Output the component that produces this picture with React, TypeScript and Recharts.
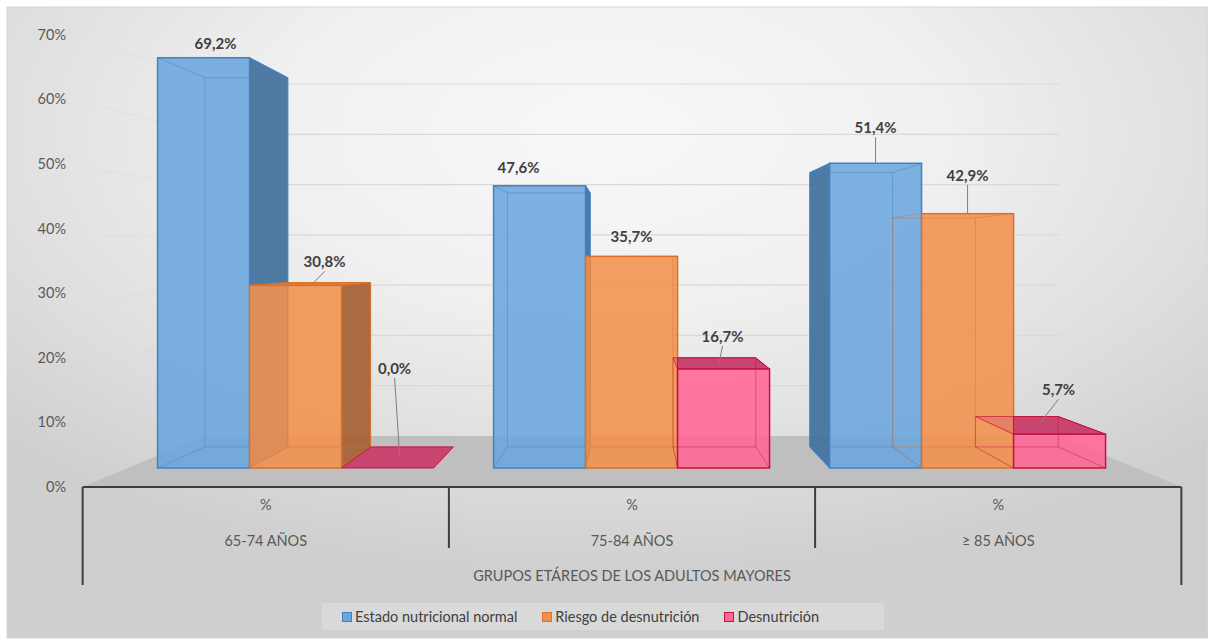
import { BarChart, Bar, XAxis, YAxis, Legend, LabelList } from 'recharts'

const AGE_GROUPS = ['65-74 AÑOS', '75-84 AÑOS', '≥ 85 AÑOS']
const UNIT_ROW = '%'
const NORMAL = [69.2, 47.6, 51.4]
const RISK = [30.8, 35.7, 42.9]
const MALNUTRITION = [0.0, 16.7, 5.7]
const SERIES_NAMES = ['Estado nutricional normal', 'Riesgo de desnutrición', 'Desnutrición']
const Y_TICKS = [0, 10, 20, 30, 40, 50, 60, 70]
const AXIS_TITLE = 'GRUPOS ETÁREOS DE LOS ADULTOS MAYORES'

const data = AGE_GROUPS.map((group, i) => ({
  group,
  normal: NORMAL[i],
  risk: RISK[i],
  mal: MALNUTRITION[i],
}))

// layout of the fake 3d scene
const W = 1208
const H = 641
const PLOT = { left: 128, right: 1136, top: 53, bottom: 468 }
const Y_MAX = 70
const VP = { x: 632, y: 257 } // vanishing point
const K_BACK = 0.9 // back face of the bars
const K_WALL = 0.848 // back wall / back edge of floor
const K_FRONT = 1.09 // front edge of floor, axis labels
const FONT = 'Lato, "Open Sans", sans-serif'
const TEXT_SIZE = 14.5

const SERIES = [
  { key: 'normal', name: SERIES_NAMES[0], front: '#6ba6dd', side: '#46739f', top: '#5b93c9', stroke: '#4182c3' },
  { key: 'risk', name: SERIES_NAMES[1], front: '#f2914d', side: '#a6643a', top: '#d97d3c', stroke: '#d9712b' },
  { key: 'mal', name: SERIES_NAMES[2], front: '#ff6696', side: '#b53a62', top: '#c9446f', stroke: '#c3143f' },
]

// manual label placement (dx from bar centre, dy from bar top), like the excel original
const LABEL_NUDGE = [
  [[12, -14], [-21, -18], [0, -35]],
  [[29, -23], [0, -19], [0, -38]],
  [[7, -99], [-1, -32], [-1, -44]],
]

const proj = (x: number, y: number, k: number): [number, number] => [VP.x + (x - VP.x) * k, VP.y + (y - VP.y) * k]
const pts = (list: number[][]) => list.map((p) => `${p[0].toFixed(1)},${p[1].toFixed(1)}`).join(' ')
const PPU = (PLOT.bottom - PLOT.top) / Y_MAX
const yFront = (v: number) => PLOT.bottom - v * PPU
const fmt = (v: number) => `${Number(v).toFixed(1).replace('.', ',')}%`

function boxShape(si: number) {
  return (props: any) => {
    const { x, y, width, height, payload } = props
    const s = SERIES[si]
    const x0 = x
    const x1 = x + width
    const yt = y
    const yb = y + height
    const bk = (px: number, py: number) => proj(px, py, K_BACK)

    // which side face can be seen, and who stands next to it
    let edge: number | null = null
    let ni = -1
    if (x1 < VP.x) {
      edge = x1
      ni = si + 1
    } else if (x0 > VP.x) {
      edge = x0
      ni = si - 1
    }
    const nb = SERIES[ni]
    const nTop = nb ? yb - payload[nb.key] * PPU : yb
    const hiddenByEarlier = !!nb && ni < si // neighbour already painted

    let side = null
    if (edge !== null) {
      const yc = hiddenByEarlier ? Math.min(yb, nTop) : yb
      if (yc > yt + 0.5) {
        side = (
          <polygon
            points={pts([[edge, yt], [edge, yc], bk(edge, yc), bk(edge, yt)])}
            fill={s.side}
            fillOpacity={0.95}
            stroke={s.stroke}
            strokeWidth={1}
          />
        )
      }
    }

    let top = null
    if (yt > VP.y) {
      const B0 = bk(x0, yt)
      const B1 = bk(x1, yt)
      const full = [[x0, yt], [x1, yt], B1, B0]
      let shown = full
      if (hiddenByEarlier && nTop <= yt && edge === x0) shown = [[x0, yt], [x1, yt], B1, [x0, B1[1]]]
      top = (
        <g>
          {shown !== full && <polygon points={pts(full)} fill={s.top} fillOpacity={0.3} stroke={s.stroke} strokeOpacity={0.4} />}
          <polygon points={pts(shown)} fill={s.top} stroke={s.stroke} strokeWidth={1} />
        </g>
      )
    }

    const b = [bk(x0, yt), bk(x1, yt), bk(x1, yb), bk(x0, yb)]
    const f = [[x0, yt], [x1, yt], [x1, yb], [x0, yb]]
    let hidden = `M${pts(b).split(' ').join(' L')} Z`
    f.forEach((p, i) => {
      hidden += ` M${p[0]},${p[1]} L${b[i][0]},${b[i][1]}`
    })

    return (
      <g>
        {side}
        {top}
        {height > 0.5 && (
          <>
            <rect x={x0} y={yt} width={width} height={height} fill={s.front} fillOpacity={0.88} stroke={s.stroke} strokeWidth={1.5} />
            <path d={hidden} fill="none" stroke={s.stroke} strokeOpacity={0.45} strokeWidth={1} />
          </>
        )}
      </g>
    )
  }
}

function labelContent(si: number) {
  return (props: any) => {
    const vb = props.viewBox && props.viewBox.width !== undefined ? props.viewBox : props
    const { x, y, width } = vb
    const band = (PLOT.right - PLOT.left) / AGE_GROUPS.length
    const idx = Math.max(0, Math.min(AGE_GROUPS.length - 1, Math.floor((x + width / 2 - PLOT.left) / band)))
    const [dx, dy] = LABEL_NUDGE[si][idx]
    const fx = x + width / 2
    const cx = fx + dx
    const cy = y + dy
    let ax = fx
    let ay = y
    if (y > VP.y) {
      const [bx, by] = proj(fx, y, K_BACK)
      ax = (fx + bx) / 2
      ay = (y + by) / 2
    }
    const leader = ay - (cy + 8) > 12
    return (
      <g>
        {leader && <line x1={ax} y1={ay} x2={cx} y2={cy + 9} stroke="#7f7f7f" strokeWidth={1} />}
        <text x={cx} y={cy + 5} textAnchor="middle" fontSize={15} fontWeight="bold" fill="#404040" fontFamily={FONT}>
          {fmt(props.value)}
        </text>
      </g>
    )
  }
}

const YTick = (props: any) => {
  const { y, payload } = props
  const py = proj(PLOT.left, y, K_FRONT)[1]
  return (
    <text x={66} y={py + 5} textAnchor="end" fontSize={TEXT_SIZE} fill="#595959" fontFamily={FONT}>
      {payload.value}%
    </text>
  )
}

const XTick = (props: any) => {
  const { x, payload } = props
  const px = proj(x, PLOT.bottom, K_FRONT)[0]
  return (
    <g fontFamily={FONT} fontSize={TEXT_SIZE} fill="#595959" textAnchor="middle">
      <text x={px} y={510}>{UNIT_ROW}</text>
      <text x={px} y={546}>{payload.value}</text>
    </g>
  )
}

const LegendContent = (props: any) => {
  const payload = [...(props.payload || [])].sort(
    (a: any, b: any) => SERIES_NAMES.indexOf(a.value) - SERIES_NAMES.indexOf(b.value)
  )
  return (
    <div
      style={{
        display: 'flex',
        alignItems: 'center',
        height: '100%',
        paddingLeft: 20,
        gap: 25,
        background: 'rgba(255,255,255,0.22)',
        fontFamily: FONT,
        fontSize: TEXT_SIZE,
        color: '#404040',
        whiteSpace: 'nowrap',
      }}
    >
      {payload.map((p: any, i: number) => {
        const s = SERIES.find((d) => d.name === p.value) ?? SERIES[i]
        return (
          <span key={p.value} style={{ display: 'flex', alignItems: 'center' }}>
            <span
              style={{
                display: 'inline-block',
                width: 8,
                height: 8,
                background: s.front,
                border: `1px solid ${s.stroke}`,
                marginRight: 3,
              }}
            />
            {p.value}
          </span>
        )
      })}
    </div>
  )
}

function Scenery() {
  const fl = proj(PLOT.left, PLOT.bottom, K_FRONT)
  const fr = proj(PLOT.right, PLOT.bottom, K_FRONT)
  const br = proj(PLOT.right, PLOT.bottom, K_WALL)
  const bl = proj(PLOT.left, PLOT.bottom, K_WALL)
  const band = (PLOT.right - PLOT.left) / AGE_GROUPS.length
  const dividers = AGE_GROUPS.slice(1).map((_, i) => proj(PLOT.left + band * (i + 1), PLOT.bottom, K_FRONT)[0])
  return (
    <svg width={W} height={H} style={{ position: 'absolute', left: 0, top: 0 }}>
      <defs>
        <radialGradient id="bg" cx="0.5" cy="0.2" r="0.7">
          <stop offset="0" stopColor="#f8f8f8" />
          <stop offset="0.4" stopColor="#f0f0f0" />
          <stop offset="0.75" stopColor="#dedede" />
          <stop offset="1" stopColor="#cfcfcf" />
        </radialGradient>
      </defs>
      <rect x={7} y={7} width={W - 7} height={H - 10} fill="url(#bg)" stroke="#d6d6d6" />
      {Y_TICKS.filter((v) => v > 0).map((v) => {
        const a = proj(PLOT.left, yFront(v), K_WALL)
        const b = proj(PLOT.right, yFront(v), K_WALL)
        const c = proj(PLOT.left, yFront(v), K_FRONT)
        return (
          <g key={v}>
            <line x1={a[0]} y1={a[1]} x2={b[0]} y2={b[1]} stroke="#d9d9d9" strokeWidth={1.2} />
            <line x1={c[0] + 18} y1={c[1] + 7} x2={a[0]} y2={a[1]} stroke="#d4d4d4" strokeOpacity={0.4} />
          </g>
        )
      })}
      <polygon points={pts([fl, fr, br, bl])} fill="#bfbfbf" />
      <g stroke="#3d3d3d" strokeWidth={2}>
        <line x1={fl[0]} y1={fl[1]} x2={fr[0]} y2={fr[1]} />
        <line x1={fl[0]} y1={fl[1]} x2={fl[0]} y2={585} />
        <line x1={fr[0]} y1={fr[1]} x2={fr[0]} y2={585} />
        {dividers.map((dx) => (
          <line key={dx} x1={dx} y1={fl[1]} x2={dx} y2={548} />
        ))}
      </g>
      <text x={(fl[0] + fr[0]) / 2} y={581} textAnchor="middle" fontFamily={FONT} fontSize={TEXT_SIZE} fill="#595959">
        {AXIS_TITLE}
      </text>
    </svg>
  )
}

export default function App() {
  return (
    <div style={{ position: 'absolute', left: 0, top: 0, width: W, height: H, fontFamily: FONT }}>
      <Scenery />
      <div style={{ position: 'absolute', left: 0, top: 0 }}>
        <BarChart
          width={W}
          height={H}
          data={data}
          margin={{ top: PLOT.top, right: W - PLOT.right, bottom: H - PLOT.bottom - 1, left: PLOT.left - 1 }}
          barGap={0}
          barCategoryGap="8.8%"
        >
          <XAxis dataKey="group" axisLine={false} tickLine={false} height={1} interval={0} tick={<XTick />} />
          <YAxis
            type="number"
            domain={[0, Y_MAX]}
            ticks={Y_TICKS}
            interval={0}
            axisLine={false}
            tickLine={false}
            width={1}
            tick={<YTick />}
          />
          <Legend
            layout="horizontal"
            verticalAlign="middle"
            align="center"
            wrapperStyle={{ left: 322, top: 603, width: 562, height: 27 }}
            content={<LegendContent />}
          />
          {SERIES.map((s, si) => (
            <Bar key={s.key} dataKey={s.key} name={s.name} fill={s.front} isAnimationActive={false} shape={boxShape(si)}>
              <LabelList dataKey={s.key} content={labelContent(si)} />
            </Bar>
          ))}
        </BarChart>
      </div>
    </div>
  )
}
